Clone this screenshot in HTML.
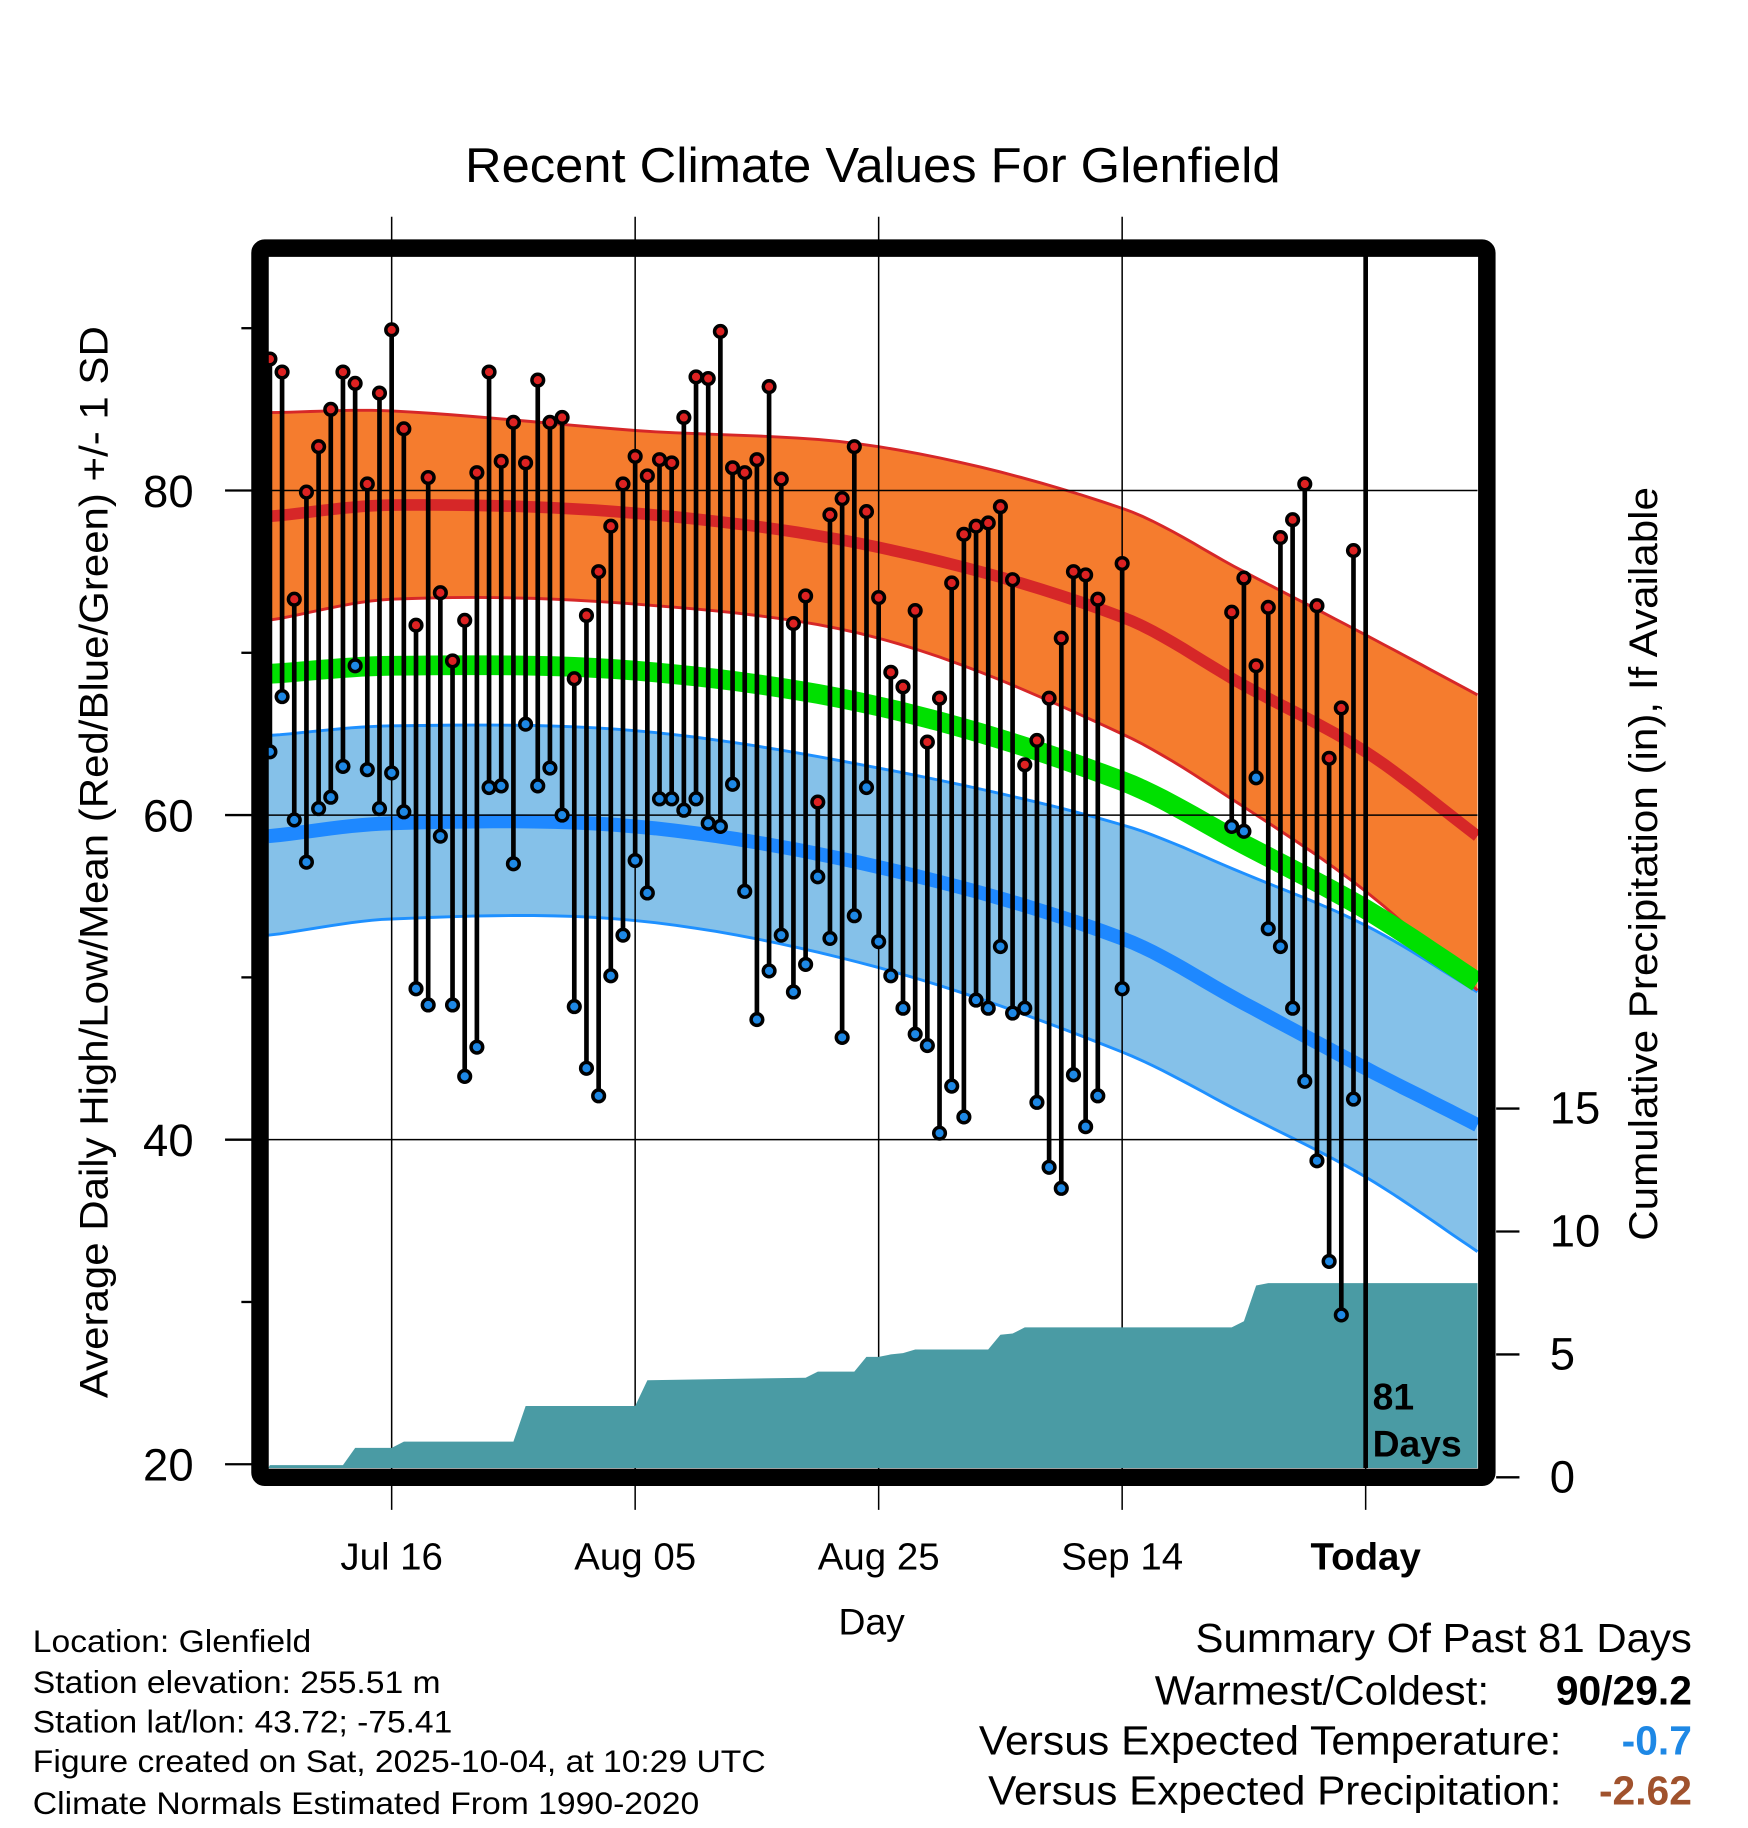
<!DOCTYPE html>
<html><head><meta charset="utf-8"><title>Recent Climate Values For Glenfield</title>
<style>html,body{margin:0;padding:0;background:#fff}svg{display:block}text{font-family:"Liberation Sans",Arial,sans-serif}</style>
</head><body>
<svg id="chart" width="1748" height="1828" viewBox="0 0 1500 1569" xmlns="http://www.w3.org/2000/svg">
<g id="layer-bands"></g>
<g id="layer-grid"></g>
<g id="layer-precip"></g>
<g id="layer-stems"></g>
<g id="layer-axes"></g>
<text x="399" y="156" font-size="42" textLength="700" lengthAdjust="spacingAndGlyphs">Recent Climate Values For Glenfield</text>
<text transform="translate(92,1200) rotate(-90)" font-size="34" textLength="920" lengthAdjust="spacingAndGlyphs">Average Daily High/Low/Mean (Red/Blue/Green) +/- 1 SD</text>
<text transform="translate(1422,1065) rotate(-90)" font-size="34" textLength="647" lengthAdjust="spacingAndGlyphs">Cumulative Precipitation (in), If Available</text>
<text x="748" y="1403" font-size="32" text-anchor="middle">Day</text>
<text x="1178" y="1210" font-size="32" font-weight="bold">81</text>
<text x="1178" y="1250" font-size="32" font-weight="bold">Days</text>
<g font-size="27" lengthAdjust="spacingAndGlyphs">
<text x="28" y="1418" textLength="239" lengthAdjust="spacingAndGlyphs">Location: Glenfield</text>
<text x="28" y="1453" textLength="350" lengthAdjust="spacingAndGlyphs">Station elevation: 255.51 m</text>
<text x="28" y="1487" textLength="360" lengthAdjust="spacingAndGlyphs">Station lat/lon: 43.72; -75.41</text>
<text x="28" y="1521" textLength="629" lengthAdjust="spacingAndGlyphs">Figure created on Sat, 2025-10-04, at 10:29 UTC</text>
<text x="28" y="1557" textLength="572" lengthAdjust="spacingAndGlyphs">Climate Normals Estimated From 1990-2020</text>
</g>
<g font-size="35">
<text x="1026" y="1418" textLength="426" lengthAdjust="spacingAndGlyphs">Summary Of Past 81 Days</text>
<text x="991" y="1463" textLength="287" lengthAdjust="spacingAndGlyphs">Warmest/Coldest:</text>
<text x="1452" y="1463" text-anchor="end" font-weight="bold">90/29.2</text>
<text x="840" y="1506" textLength="500" lengthAdjust="spacingAndGlyphs">Versus Expected Temperature:</text>
<text x="1452" y="1506" text-anchor="end" font-weight="bold" fill="#1e88e5">-0.7</text>
<text x="848" y="1549" textLength="492" lengthAdjust="spacingAndGlyphs">Versus Expected Precipitation:</text>
<text x="1452" y="1549" text-anchor="end" font-weight="bold" fill="#a0522d">-2.62</text>
</g>
</svg>
<script>
// ---- data ----
const dayOffsets = [-90,-89,-88,-87,-86,-85,-84,-83,-82,-81,-80,-79,-78,-77,-76,-75,-74,-73,-72,-71,-70,-69,-68,-67,-66,-65,-64,-63,-62,-61,-60,-59,-58,-57,-56,-55,-54,-53,-52,-51,-50,-49,-48,-47,-46,-45,-44,-43,-42,-41,-40,-39,-38,-37,-36,-35,-34,-33,-32,-31,-30,-29,-28,-27,-26,-25,-24,-23,-22,-20,-11,-10,-9,-8,-7,-6,-5,-4,-3,-2,-1];
const highs = [88.1,87.3,73.3,79.9,82.7,85.0,87.3,86.6,80.4,86.0,89.9,83.8,71.7,80.8,73.7,69.5,72.0,81.1,87.3,81.8,84.2,81.7,86.8,84.2,84.5,68.4,72.3,75.0,77.8,80.4,82.1,80.9,81.9,81.7,84.5,87.0,86.9,89.8,81.4,81.1,81.9,86.4,80.7,71.8,73.5,60.8,78.5,79.5,82.7,78.7,73.4,68.8,67.9,72.6,64.5,67.2,74.3,77.3,77.8,78.0,79.0,74.5,63.1,64.6,67.2,70.9,75.0,74.8,73.3,75.5,72.5,74.6,69.2,72.8,77.1,78.2,80.4,72.9,63.5,66.6,76.3];
const lows = [63.9,67.3,59.7,57.1,60.4,61.1,63.0,69.2,62.8,60.4,62.6,60.2,49.3,48.3,58.7,48.3,43.9,45.7,61.7,61.8,57.0,65.6,61.8,62.9,60.0,48.2,44.4,42.7,50.1,52.6,57.2,55.2,61.0,61.0,60.3,61.0,59.5,59.3,61.9,55.3,47.4,50.4,52.6,49.1,50.8,56.2,52.4,46.3,53.8,61.7,52.2,50.1,48.1,46.5,45.8,40.4,43.3,41.4,48.6,48.1,51.9,47.8,48.1,42.3,38.3,37.0,44.0,40.8,42.7,49.3,59.3,59.0,62.3,53.0,51.9,48.1,43.6,38.7,32.5,29.2,42.5];
const normalDays = [-90,-80,-60,-40,-20,-10,0,9.2];
const highMean = [78.4,79.1,78.6,76.5,72.2,68.0,63.9,58.7];
const highUpper = [84.8,84.9,83.7,82.7,78.9,75.0,71.1,67.4];
const highLower = [72.0,73.3,73.0,70.9,65.0,60.5,55.3,49.2];
const avgMean = [68.7,69.2,68.9,66.7,62.1,58.2,54.2,49.7];
const lowMean = [58.7,59.5,59.3,56.8,52.4,48.4,44.4,40.9];
const lowUpper = [64.9,65.5,65.2,62.9,59.4,56.4,53.2,49.1];
const lowLower = [52.6,53.6,53.5,50.6,45.4,41.6,37.7,33.1];
const precipDays = [-90,-84,-83,-80,-79,-70,-69,-60,-59,-46,-45,-42,-41,-40,-39,-38,-37,-31,-30,-29,-28,-11,-10,-9,-8,9.2];
const precipCum = [0.5,0.5,1.2,1.2,1.45,1.45,2.9,2.9,3.95,4.05,4.3,4.3,4.9,4.9,5.0,5.05,5.2,5.2,5.8,5.85,6.1,6.1,6.35,7.8,7.9,7.9];
const xTickDays = [-80,-60,-40,-20,0];
const xTickLabels = ["Jul 16","Aug 05","Aug 25","Sep 14","Today"];
const yTicks = [20,40,60,80];
const yMinorTicks = [30,50,70,90];
const pTicks = [0,5,10,15];

// ---- axes ----
const X0=230, X1=1268, Y0=220, Y1=1260;
const xS = d => 1172 + d*10.45;
const yS = t => 421 - (t-80)*13.93;
const pS = p => 1268 - p*21.1;
const NS="http://www.w3.org/2000/svg";
function mk(tag, attrs, parent){const e=document.createElementNS(NS,tag);for(const k in attrs)e.setAttribute(k,attrs[k]);parent.appendChild(e);return e;}

// smooth interpolation (monotone-ish cubic Hermite with non-uniform spacing)
function curve(vals){
  const n=normalDays.length, m=[];
  for(let i=0;i<n;i++){
    if(i===0) m.push((vals[1]-vals[0])/(normalDays[1]-normalDays[0]));
    else if(i===n-1) m.push((vals[n-1]-vals[n-2])/(normalDays[n-1]-normalDays[n-2]));
    else m.push((vals[i+1]-vals[i-1])/(normalDays[i+1]-normalDays[i-1]));
  }
  const pts=[];
  for(let i=0;i<n-1;i++){
    const d1=normalDays[i],d2=normalDays[i+1],h=d2-d1;
    for(let s=0;s<12;s++){const t=s/12,t2=t*t,t3=t2*t;
      const v=(2*t3-3*t2+1)*vals[i]+(t3-2*t2+t)*h*m[i]+(-2*t3+3*t2)*vals[i+1]+(t3-t2)*h*m[i+1];
      pts.push([xS(d1+h*t),yS(v)]);}
  }
  pts.push([xS(normalDays[n-1]),yS(vals[n-1])]);
  pts[0][0]=X0; pts[pts.length-1][0]=X1;
  return pts;
}
const ptsStr = p => p.map(q=>q[0].toFixed(1)+","+q[1].toFixed(1)).join(" ");

const bands=document.getElementById('layer-bands');
const lu=curve(lowUpper), ll=curve(lowLower);
const lowBand=mk('polygon',{points:ptsStr(lu.concat(ll.slice().reverse())),fill:'#85c1e9'},bands);


const hu=curve(highUpper), hl=curve(highLower);
const highBand=mk('polygon',{points:ptsStr(hu.concat(hl.slice().reverse())),fill:'#f57c2e'},bands);


[[lu,'#1e90ff',2.5,'low-upper-line'],[ll,'#1e90ff',2.5,'low-lower-line'],[hu,'#d62728',2.5,'high-upper-line'],[hl,'#d62728',2.5,'high-lower-line'],
 [curve(avgMean),'#00e000',17,'mean-line'],[curve(highMean),'#d62728',10,'high-mean-line'],[curve(lowMean),'#1e88ff',12,'low-mean-line']].forEach(a=>{
  const l=mk('polyline',{points:ptsStr(a[0]),fill:'none',stroke:a[1],'stroke-width':a[2]},bands);
  
  
});

// grid
const grid=document.getElementById('layer-grid');
[40,60,80].forEach(t=>{const g=mk('line',{x1:X0,x2:X1,y1:yS(t),y2:yS(t),stroke:'#000','stroke-width':1.3},grid);
  
  });
xTickDays.forEach(d=>{const g=mk('line',{x1:xS(d),x2:xS(d),y1:d===0?Y0:186,y2:1296,stroke:'#000','stroke-width':1.3},grid);
  
  });

// precip
const pr=document.getElementById('layer-precip');
const pp=precipDays.map((d,i)=>[Math.max(X0,Math.min(X1,xS(d))),pS(precipCum[i])]);
pp.push([X1,Y1],[X0,Y1]);
const area=mk('polygon',{points:ptsStr(pp),fill:'#4a9ba4'},pr);


const tl=mk('line',{x1:xS(0),x2:xS(0),y1:Y0,y2:Y1,stroke:'#000','stroke-width':4},pr);



// stems
const st=document.getElementById('layer-stems');
dayOffsets.forEach((d,i)=>{
  const x=xS(d);
  const s=mk('line',{x1:x,x2:x,y1:yS(highs[i]),y2:yS(lows[i]),stroke:'#000','stroke-width':4},st);
  
  
  const h=mk('circle',{cx:x,cy:yS(highs[i]),r:5,fill:'#dd2222',stroke:'#000','stroke-width':3},st);
  
  
  const l=mk('circle',{cx:x,cy:yS(lows[i]),r:5,fill:'#1e88e5',stroke:'#000','stroke-width':3},st);
  
  
});

// axes/frame
const ax=document.getElementById('layer-axes');
const fr=mk('rect',{x:223,y:213,width:1053,height:1055,rx:4,fill:'none',stroke:'#000','stroke-width':15},ax);


yTicks.forEach(t=>{const y=yS(t);
  const tk=mk('line',{x1:193,x2:216,y1:y,y2:y,stroke:'#000','stroke-width':2},ax);
  
  
  const tx=mk('text',{x:166,y:y+14,'font-size':39,'text-anchor':'end'},ax);tx.textContent=t;
  
  });
yMinorTicks.forEach(t=>{const y=yS(t);
  const tk=mk('line',{x1:207,x2:216,y1:y,y2:y,stroke:'#000','stroke-width':2},ax);
  
  });
pTicks.forEach(p=>{const y=pS(p);
  const tk=mk('line',{x1:1284,x2:1304,y1:y,y2:y,stroke:'#000','stroke-width':2},ax);
  
  
  const tx=mk('text',{x:1330,y:y+13,'font-size':39},ax);tx.textContent=p;
  
  });
xTickDays.forEach((d,i)=>{
  const tx=mk('text',{x:xS(d),y:1347,'font-size':33,'text-anchor':'middle','font-weight':d===0?'bold':'normal'},ax);tx.textContent=xTickLabels[i];
  
  });
</script>
</body></html>
